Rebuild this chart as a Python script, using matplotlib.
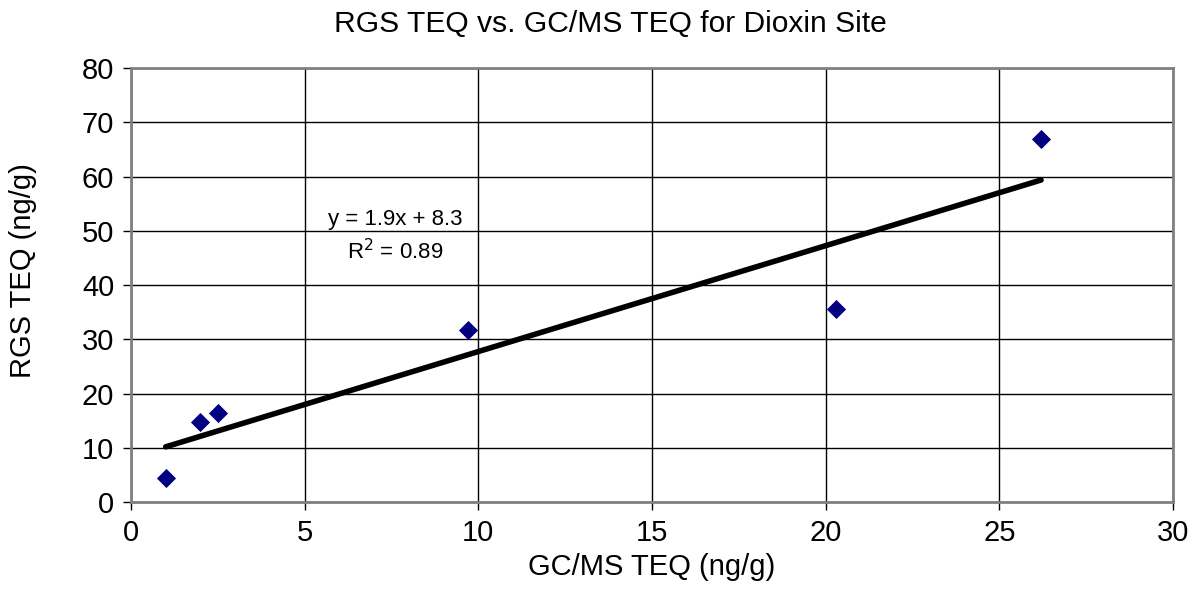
import numpy as np
import matplotlib
matplotlib.use('Agg')
import matplotlib.pyplot as plt

plt.rcParams['font.family'] = ['Liberation Sans', 'DejaVu Sans']

# GC/MS TEQ vs RGS TEQ (ng/g)
gcms_teq = [1.0, 2.0, 2.5, 9.7, 20.3, 26.2]
rgs_teq = [4.5, 14.8, 16.5, 31.7, 35.6, 66.9]

title = 'RGS TEQ vs. GC/MS TEQ for Dioxin Site'
x_label = 'GC/MS TEQ (ng/g)'
y_label = 'RGS TEQ (ng/g)'

x = np.array(gcms_teq)
y = np.array(rgs_teq)
slope, intercept = np.polyfit(x, y, 1)
r2 = np.corrcoef(x, y)[0, 1] ** 2

fig = plt.figure(figsize=(11.97, 5.96), dpi=100)
ax = fig.add_axes([0.1094, 0.157, 0.8706, 0.729])

ax.scatter(x, y, marker='D', s=95, color='#000080', zorder=3, linewidths=0)
xs = np.array([x.min(), x.max()])
ax.plot(xs, slope * xs + intercept, color='black', lw=4, solid_capstyle='round', zorder=2)

ax.text(7.6, 49.0, 'y = %.1fx + %.1f\nR$^2$ = %.2f' % (slope, intercept, r2),
        ha='center', va='center', fontsize=16, linespacing=1.45)

ax.set_xlim(0, 30)
ax.set_ylim(0, 80)
ax.set_xticks(range(0, 31, 5))
ax.set_yticks(range(0, 81, 10))
ax.grid(True, color='black', lw=1)
ax.set_axisbelow(True)
ax.tick_params(labelsize=21, direction='out', length=6, width=1, pad=6)
for side in ['top', 'right', 'left', 'bottom']:
    ax.spines[side].set_color('#808080')
    ax.spines[side].set_linewidth(2)

ax.set_xlabel(x_label, fontsize=21, labelpad=4)
ax.set_ylabel(y_label, fontsize=21)
ax.yaxis.set_label_coords(-0.090, 0.533)
fig.text(0.510, 0.983, title, fontsize=21.6, ha='center', va='top')

fig.savefig('out.png', dpi=100)
